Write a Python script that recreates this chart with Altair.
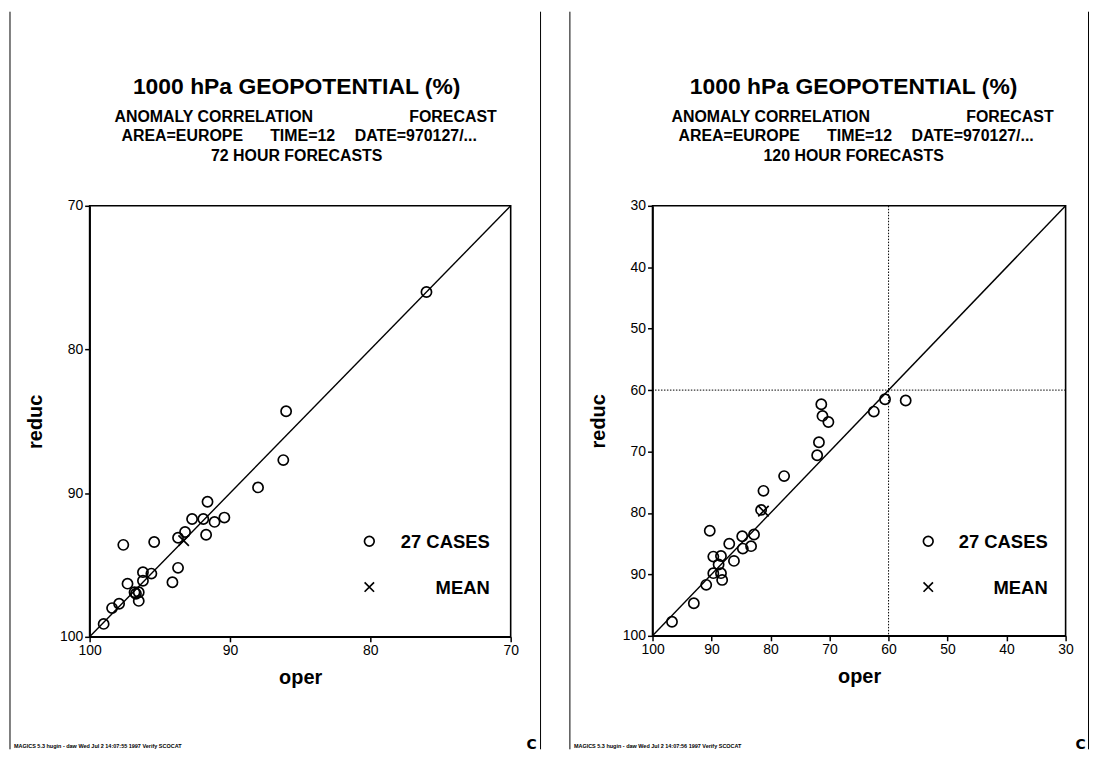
import altair as alt
import pandas as pd

FONT = "Liberation Sans"

# ---------------- data ----------------
# 72 hour forecasts (left panel)
oper72 = [76.0, 86.0, 86.2, 88.0, 91.6, 92.7, 91.9, 91.1, 90.4, 91.7, 93.2, 93.7, 95.4, 97.6,
          93.7, 94.1, 96.2, 95.6, 96.2, 97.3, 96.8, 96.5, 96.5, 97.9, 98.4, 99.0, 96.7]
reduc72 = [76.0, 84.3, 87.7, 89.6, 90.6, 91.8, 91.8, 92.0, 91.7, 92.9, 92.7, 93.1, 93.4, 93.6,
           95.2, 96.2, 95.5, 95.6, 96.1, 96.3, 96.9, 96.9, 97.5, 97.7, 98.0, 99.1, 97.0]
mean72 = [93.3, 93.3]
ticks72 = [100, 90, 80, 70]
diag72 = [100, 70]

# 120 hour forecasts (right panel)
oper120 = [81.2, 81.6, 90.3, 84.8, 82.8, 87.0, 84.7, 83.3, 89.7, 88.4, 86.2, 88.8, 89.7, 88.4,
           88.2, 90.9, 93.0, 96.7, 71.4, 71.2, 70.2, 71.8, 72.1, 62.5, 60.6, 57.1, 77.7]
reduc120 = [76.4, 79.5, 82.9, 83.8, 83.5, 85.0, 85.8, 85.4, 87.1, 87.0, 87.8, 88.4, 89.8, 89.8,
            90.9, 91.7, 94.7, 97.7, 62.3, 64.2, 65.2, 68.5, 70.6, 63.5, 61.5, 61.7, 74.0]
mean120 = [81.2, 79.7]
ticks120 = [100, 90, 80, 70, 60, 50, 40, 30]
diag120 = [100, 30]
cross120 = [60]

TITLE = "1000 hPa GEOPOTENTIAL (%)"
LINE2A = "ANOMALY CORRELATION"
LINE2B = "FORECAST"
LINE3 = ["AREA=EUROPE", "TIME=12", "DATE=970127/..."]
FOOTERS = ["MAGICS 5.3 hugin - daw Wed Jul  2 14:07:55 1997 Verify SCOCAT",
           "MAGICS 5.3 hugin - daw Wed Jul  2 14:07:56 1997 Verify SCOCAT"]

one = pd.DataFrame({"k": [0]})
XSHAPE = "M-1,-1L1,1M-1,1L1,-1"


def txt(text, x, y, size, align="center", weight="bold", font=FONT):
    return alt.Chart(one).mark_text(
        text=text, font=font, fontSize=size, fontWeight=weight, align=align,
        baseline="alphabetic", color="black"
    ).encode(x=alt.value(x), y=alt.value(y))


def panel(oper, reduc, mean, ticks, diag, hours, W, H, g, cross=None, footer=""):
    lo, hi = min(ticks), max(ticks)
    X = alt.X("oper:Q", scale=alt.Scale(domain=[lo, hi], reverse=True, nice=False, zero=False),
              axis=alt.Axis(values=ticks, title="oper", labelFlush=False, grid=False,
                            titlePadding=10))
    Y = alt.Y("reduc:Q", scale=alt.Scale(domain=[lo, hi], reverse=True, nice=False, zero=False),
              axis=alt.Axis(values=ticks, title="reduc", grid=False, titlePadding=14))

    pts = alt.Chart(pd.DataFrame({"oper": oper, "reduc": reduc})).mark_point(
        shape="circle", filled=False, size=105, color="black", strokeWidth=1.7, opacity=1
    ).encode(x=X, y=Y)
    dg = alt.Chart(pd.DataFrame({"oper": diag, "reduc": diag})).mark_line(
        color="black", strokeWidth=1.4
    ).encode(x=X, y=Y)
    mn = alt.Chart(pd.DataFrame({"oper": [mean[0]], "reduc": [mean[1]]})).mark_point(
        shape=XSHAPE, filled=False, size=110, color="black", strokeWidth=1.7, opacity=1
    ).encode(x=X, y=Y)

    layers = [dg, pts, mn]
    if cross:
        layers.append(alt.Chart(pd.DataFrame({"oper": cross})).mark_rule(
            color="black", strokeWidth=1, strokeDash=[1.5, 1.5]).encode(x=X))
        layers.append(alt.Chart(pd.DataFrame({"reduc": cross})).mark_rule(
            color="black", strokeWidth=1, strokeDash=[1.5, 1.5]).encode(y=Y))

    # legend inside the plot
    layers.append(alt.Chart(one).mark_point(shape="circle", filled=False, size=95, color="black",
                                            strokeWidth=1.7, opacity=1)
                  .encode(x=alt.value(g["leg_x"]), y=alt.value(337)))
    layers.append(alt.Chart(one).mark_point(shape=XSHAPE, filled=False, size=90, color="black",
                                            strokeWidth=1.7, opacity=1)
                  .encode(x=alt.value(g["leg_x"]), y=alt.value(383)))
    layers.append(txt("27 CASES", g["leg_r"], 344, 18.5, align="right"))
    layers.append(txt("MEAN", g["leg_r"], 390, 18.5, align="right"))

    # titles
    c = g["tc"]
    layers.append(txt(TITLE, c, -112, 23))
    layers.append(txt(LINE2A, c - 183, -84, 16, align="left"))
    layers.append(txt(LINE2B, c + 201, -84, 16, align="right"))
    layers.append(txt(LINE3[0], c - 176, -65.5, 16, align="left"))
    layers.append(txt(LINE3[1], c + 6, -65.5, 16))
    layers.append(txt(LINE3[2], c + 181, -65.5, 16, align="right"))
    layers.append(txt(f"{hours} HOUR FORECASTS", c, -45.5, 16))

    # page frame and footer
    for fx in (g["fl"], g["fr"]):
        layers.append(alt.Chart(one).mark_rule(color="black", strokeWidth=1)
                      .encode(x=alt.value(fx), y=alt.value(-195), y2=alt.value(546)))
    layers.append(txt(footer, g["fl"] + 4, 545, 5.5, align="left"))
    layers.append(txt("C", g["logo"], 546, 14, weight="bold", font="DejaVu Sans"))

    return alt.layer(*layers).properties(width=W, height=H)


left = panel(oper72, reduc72, mean72, ticks72, diag72, 72, 423, 433,
             dict(leg_x=281, leg_r=402, tc=208, fl=-80, fr=453, logo=444), footer=FOOTERS[0])
right = panel(oper120, reduc120, mean120, ticks120, diag120, 120, 415, 432,
              dict(leg_x=277, leg_r=397, tc=202, fl=-83, fr=438, logo=430),
              cross=cross120, footer=FOOTERS[1])

chart = alt.hconcat(left, right, spacing=25.5).properties(
    padding=0, background="white"
).configure_view(stroke="black", strokeWidth=1.6).configure_axis(
    domainColor="black", domainWidth=1.6, tickColor="black", tickWidth=1.5, tickSize=5,
    labelColor="black", labelFont=FONT, labelFontSize=14, labelPadding=2,
    titleColor="black", titleFont=FONT, titleFontSize=20, titleFontWeight="bold"
)

chart.save("out.html", embed_options={"renderer": "svg", "actions": False})
